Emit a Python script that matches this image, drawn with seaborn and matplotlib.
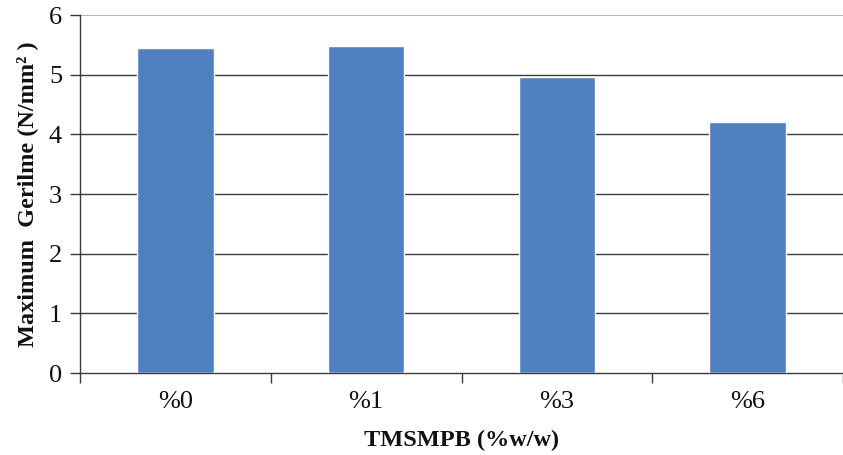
import matplotlib
matplotlib.use("Agg")
import matplotlib.pyplot as plt
import seaborn as sns
import pandas as pd

categories = ["%0", "%1", "%3", "%6"]
max_stress = [5.44, 5.48, 4.96, 4.20]
y_ticks = [0, 1, 2, 3, 4, 5, 6]

df = pd.DataFrame({"TMSMPB": categories, "stress": max_stress})

sns.set_theme(style="white")
plt.rcParams["font.family"] = ["Liberation Serif", "DejaVu Serif"]

fig = plt.figure(figsize=(8.43, 4.55), dpi=100)
ax = fig.add_axes([0.095, 0.180, 0.905, 0.787])

sns.barplot(data=df, x="TMSMPB", y="stress", color="#5080C0", width=0.4,
            saturation=1, ax=ax, zorder=3)

ax.set_xlim(-0.5, 3.5)
ax.set_ylim(0, 6)
ax.set_yticks(y_ticks)
ax.set_yticklabels([str(t) for t in y_ticks])

# horizontal gridlines, the top one in light blue
for t in y_ticks[1:-1]:
    ax.axhline(t, color="#3a3a3a", lw=1.0, zorder=1)
ax.axhline(6, color="#7fb3e0", lw=1.2, zorder=1)

# category boundary ticks on the x axis
ax.set_xticks([-0.5, 0.5, 1.5, 2.5, 3.5], minor=True)
ax.tick_params(axis="x", which="minor", bottom=True, length=7, width=1.0,
               color="#3a3a3a", direction="out")
ax.tick_params(axis="x", which="major", bottom=False, length=0, labelsize=19,
               pad=13, labelcolor="#111111")
ax.tick_params(axis="y", which="major", left=True, length=7, width=1.0,
               color="#3a3a3a", direction="out", labelsize=19, pad=6,
               labelcolor="#111111")

for side in ["top", "right"]:
    ax.spines[side].set_visible(False)
for side in ["left", "bottom"]:
    ax.spines[side].set_color("#3a3a3a")
    ax.spines[side].set_linewidth(1.0)

ax.set_xlabel("TMSMPB (%w/w)", fontsize=17.5, fontweight="bold", labelpad=12,
              color="#111111")
ax.set_ylabel("Maximum  Gerilme (N/mm² )", fontsize=17.5,
              fontweight="bold", labelpad=8, color="#111111")

fig.savefig("out.png", dpi=100)
